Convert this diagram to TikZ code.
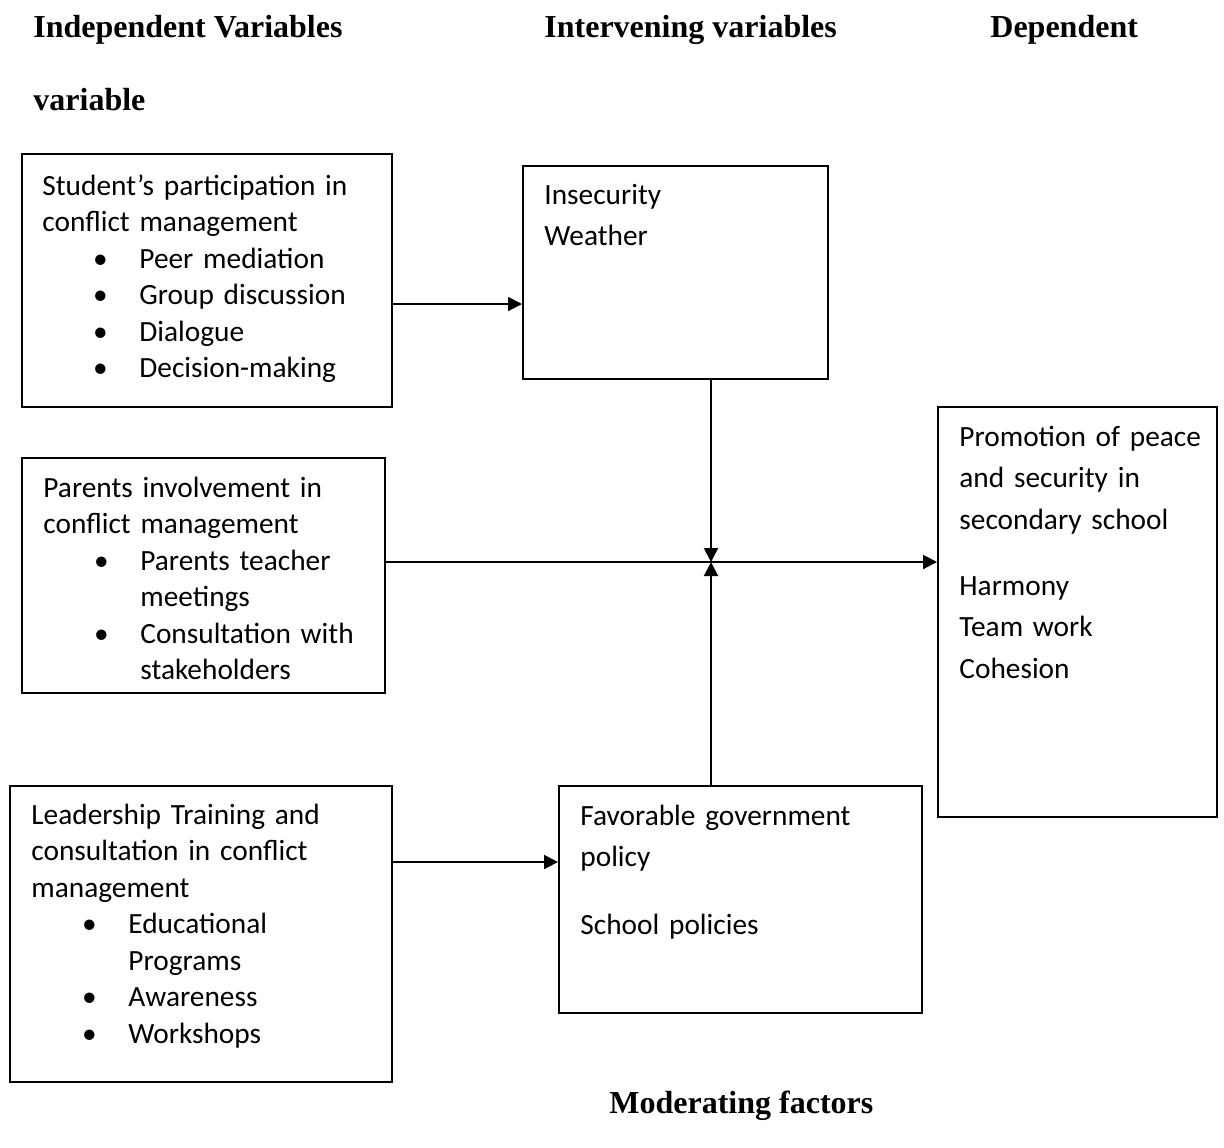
\documentclass[tikz,border=0pt]{standalone}
\usepackage{fontspec}
\setmainfont{Carlito}
\newfontfamily\headfont{Liberation Serif}
\usepackage{tikz}
\usetikzlibrary{arrows.meta,fit}

\newcommand{\bul}[1]{\leavevmode\rlap{\makebox[58pt]{\textbullet}}\hspace*{48.5pt}#1}
\newcommand{\bulc}[1]{\leavevmode\hspace*{48.5pt}#1}

\tikzset{
  box/.style={draw,line width=1pt,inner sep=0pt},
  txt/.style={anchor=base west,inner sep=0pt,align=left,text width=180pt,font=\fontsize{14.67}{18.25}\selectfont},
  txtwide/.style={txt,font=\fontsize{14.67}{20.75}\selectfont},
  head/.style={anchor=base west,inner sep=0pt,font=\headfont\bfseries\fontsize{16}{19}\selectfont},
  arr/.style={line width=1pt,-{Triangle[length=7pt,width=7pt]}}
}

\begin{document}
\begin{tikzpicture}[x=0.5pt,y=-0.5pt]
\useasboundingbox (0,0) rectangle (1224,1147);

\node[head] (hind) at (33,37) {Independent Variables};
\node[head] (hint) at (544,37) {Intervening variables};
\node[head] (hdep) at (990,37) {Dependent};
\node[head] (hvar) at (33,110) {variable};
\node[head] (hmod) at (609,1113) {Moderating factors};

\node[box,fit={(22,154) (392,407)}] (student) {};
\node[box,fit={(523,166) (828,379)}] (insec) {};
\node[box,fit={(22,458) (385,693)}] (parents) {};
\node[box,fit={(938,407) (1217,817)}] (promo) {};
\node[box,fit={(10,786) (392,1082)}] (lead) {};
\node[box,fit={(559,786) (922,1013)}] (favor) {};

\node[txt] (tstudent) at (42,195) {Student’s participation in\\conflict management\\
  \bul{Peer mediation}\\\bul{Group discussion}\\\bul{Dialogue}\\\bul{Decision-making}};
\node[txtwide] (tinsec) at (544,204) {Insecurity\\Weather};
\node[txt] (tparents) at (43,497) {Parents involvement in\\conflict management\\
  \bul{Parents teacher}\\\bulc{meetings}\\\bul{Consultation with}\\\bulc{stakeholders}};
\node[txtwide] (tpromo) at (959,446) {Promotion of peace\\and security in\\secondary school\\[12.25pt]
  Harmony\\Team work\\Cohesion};
\node[txt] (tlead) at (31,824) {Leadership Training and\\consultation in conflict\\management\\
  \bul{Educational}\\\bulc{Programs}\\\bul{Awareness}\\\bul{Workshops}};
\node[txtwide] (tfavor) at (580,825) {Favorable government\\policy\\[13.25pt]School policies};

\coordinate (meet) at (711,562);
\draw[arr] (student.east |- 0,304) -- (insec.west |- 0,304);
\draw[arr] (parents.east |- meet) -- (promo.west |- meet);
\draw[arr] (insec.south -| meet) -- (meet);
\draw[arr] (favor.north -| meet) -- (meet);
\draw[arr] (lead.east |- 0,862) -- (favor.west |- 0,862);
\end{tikzpicture}
\end{document}
